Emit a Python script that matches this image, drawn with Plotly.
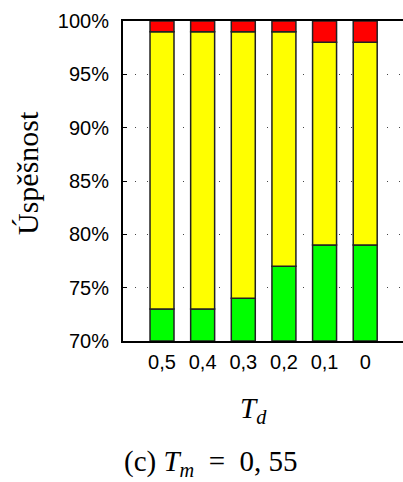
import plotly.graph_objects as go

categories = ["0,5", "0,4", "0,3", "0,2", "0,1", "0"]
green = [73, 73, 74, 77, 79, 79]      # top of green segment (%)
yellow = [26, 26, 25, 22, 19, 19]     # height of yellow segment (%)
red = [1, 1, 1, 1, 2, 2]              # height of red segment (%)
y_min = 70
y_ticks = [70, 75, 80, 85, 90, 95, 100]
y_tick_labels = [f"{v}%" for v in y_ticks]

x = list(range(len(categories)))
g_h = [g - y_min for g in green]
y_base = green
r_base = [g + yv for g, yv in zip(green, yellow)]

line = dict(color="#222222", width=1.5)
fig = go.Figure()
fig.add_trace(go.Bar(x=x, y=g_h, base=[y_min] * len(x), marker=dict(color="#00ff00", line=line), width=0.59))
fig.add_trace(go.Bar(x=x, y=yellow, base=y_base, marker=dict(color="#ffff00", line=line), width=0.59))
fig.add_trace(go.Bar(x=x, y=red, base=r_base, marker=dict(color="#ff0000", line=line), width=0.59))

W, H = 403, 482
L, R, T, B = 123, 0, 21, 141
fig.update_layout(
    width=W, height=H,
    margin=dict(l=L, r=R, t=T, b=B),
    barmode="overlay",
    showlegend=False,
    plot_bgcolor="white", paper_bgcolor="white",
    xaxis=dict(
        range=[-0.96, 5.93],
        tickmode="array", tickvals=x, ticktext=categories,
        showline=True, linecolor="black", linewidth=2, mirror=True,
        showgrid=False, zeroline=False, ticks="",
        ticklabelstandoff=2,
        tickfont=dict(family="Liberation Sans", size=20, color="black"),
    ),
    yaxis=dict(
        range=[y_min, 100],
        tickmode="array", tickvals=y_ticks, ticktext=y_tick_labels,
        showline=True, linecolor="black", linewidth=2,
        ticks="inside", ticklen=4, tickcolor="black",
        showgrid=True, gridcolor="#444444", gridwidth=1, griddash="1px,11px",
        zeroline=False,
        ticklabelstandoff=8,
        tickfont=dict(family="Liberation Sans", size=20, color="black"),
    ),
)

pw, ph = W - L - R, H - T - B
anns = [
    dict(text="Úspěšnost", px=27, py=173, size=30, angle=-90),
    dict(text="<i>T</i><sub><i>d</i></sub>", px=253, py=410, size=29, angle=0),
    dict(text="(c) <i>T</i><sub><i>m</i></sub>&nbsp;&nbsp;=&nbsp;&nbsp;0,&nbsp;55", px=211, py=463, size=29, angle=0),
]
for a in anns:
    fig.add_annotation(
        text=a["text"], x=(a["px"] - L) / pw, y=(H - B - a["py"]) / ph,
        xref="paper", yref="paper", showarrow=False, xanchor="center", yanchor="middle",
        textangle=a["angle"],
        font=dict(family="Liberation Serif", size=a["size"], color="black"),
    )

fig.write_html("out.html")
